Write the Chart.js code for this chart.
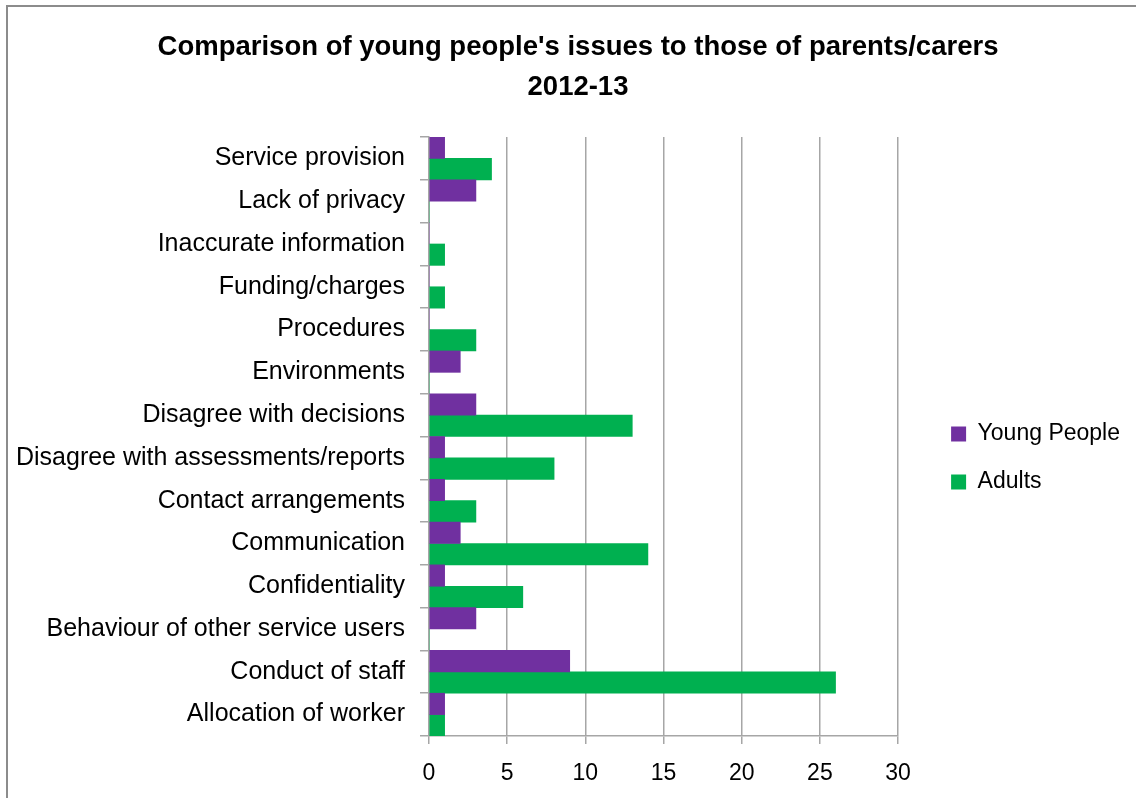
<!DOCTYPE html>
<html>
<head>
<meta charset="utf-8">
<script src="https://cdn.jsdelivr.net/npm/chart.js@4/dist/chart.umd.min.js"></script>
<style>
  html, body { margin: 0; padding: 0; background: #fff; }
  #wrap { position: relative; width: 1136px; height: 798px; overflow: hidden; }
  #frame {
    position: absolute; left: 6px; top: 5px; width: 1200px; height: 900px;
    border-top: 2px solid #8c8c8c; border-left: 2px solid #8c8c8c;
    pointer-events: none;
  }
</style>
</head>
<body>
<div id="wrap">
  <canvas id="grafico" width="1136" height="798"></canvas>
  <div id="frame"></div>
</div>
<script>
// categorias (de cima para baixo)
const categorias = [
  'Service provision',
  'Lack of privacy',
  'Inaccurate information',
  'Funding/charges',
  'Procedures',
  'Environments',
  'Disagree with decisions',
  'Disagree with assessments/reports',
  'Contact arrangements',
  'Communication',
  'Confidentiality',
  'Behaviour of other service users',
  'Conduct of staff',
  'Allocation of worker'
];
const jovens = [1, 3, 0, 0, 0, 2, 3, 1, 1, 2, 1, 3, 9, 1];
const adultos = [4, 0, 1, 1, 3, 0, 13, 8, 3, 14, 6, 0, 26, 1];
const eixoX = { min: 0, max: 30, passo: 5 };

const fonte = "'Liberation Sans', Arial, sans-serif";
const corGrade = '#a6a6a6';

// desloca legenda e titulo para ficarem como no original
const pluginAjuste = {
  id: 'ajusteLayout',
  afterLayout: (chart) => {
    const leg = chart.legend;
    if (leg) {
      leg.left += 28;
      leg.right += 28;
      leg.top += 59;
      leg.bottom += 59;
    }
    const tit = chart.titleBlock;
    if (tit) {
      tit.left += 27;
      tit.right += 27;
    }
  }
};

new Chart(document.getElementById('grafico').getContext('2d'), {
  type: 'bar',
  data: {
    labels: categorias,
    datasets: [
      {
        label: 'Young People',
        data: jovens,
        backgroundColor: '#7030a0',
        categoryPercentage: 1,
        barPercentage: 1
      },
      {
        label: 'Adults',
        data: adultos,
        backgroundColor: '#00b050',
        categoryPercentage: 1,
        barPercentage: 1
      }
    ]
  },
  options: {
    indexAxis: 'y',
    responsive: false,
    animation: false,
    layout: { padding: { left: 0, right: 34, top: 0, bottom: 0 } },
    plugins: {
      title: {
        display: true,
        text: ["Comparison of young people's issues to those of parents/carers", '2012-13'],
        color: '#000',
        font: { family: fonte, size: 27.5, weight: 'bold', lineHeight: 1.455 },
        padding: { top: 27, bottom: 30 }
      },
      legend: {
        display: true,
        position: 'right',
        labels: {
          color: '#000',
          font: { family: fonte, size: 23 },
          boxWidth: 15,
          boxHeight: 15,
          padding: 25
        }
      },
      tooltip: { enabled: false }
    },
    scales: {
      x: {
        min: eixoX.min,
        max: eixoX.max,
        ticks: {
          stepSize: eixoX.passo,
          color: '#000',
          font: { family: fonte, size: 23 },
          padding: 16
        },
        grid: {
          color: corGrade,
          lineWidth: 1.5,
          tickLength: 8
        },
        border: { color: corGrade, width: 1.5 },
        afterFit: (scale) => { scale.height = 62; }
      },
      y: {
        ticks: {
          color: '#000',
          font: { family: fonte, size: 25 },
          padding: 15,
          autoSkip: false
        },
        grid: {
          offset: true,
          drawOnChartArea: false,
          color: corGrade,
          lineWidth: 1.5,
          tickLength: 9
        },
        border: { color: corGrade, width: 1.5 },
        afterFit: (scale) => { scale.width = 429; }
      }
    }
  },
  plugins: [pluginAjuste]
});
</script>
</body>
</html>
